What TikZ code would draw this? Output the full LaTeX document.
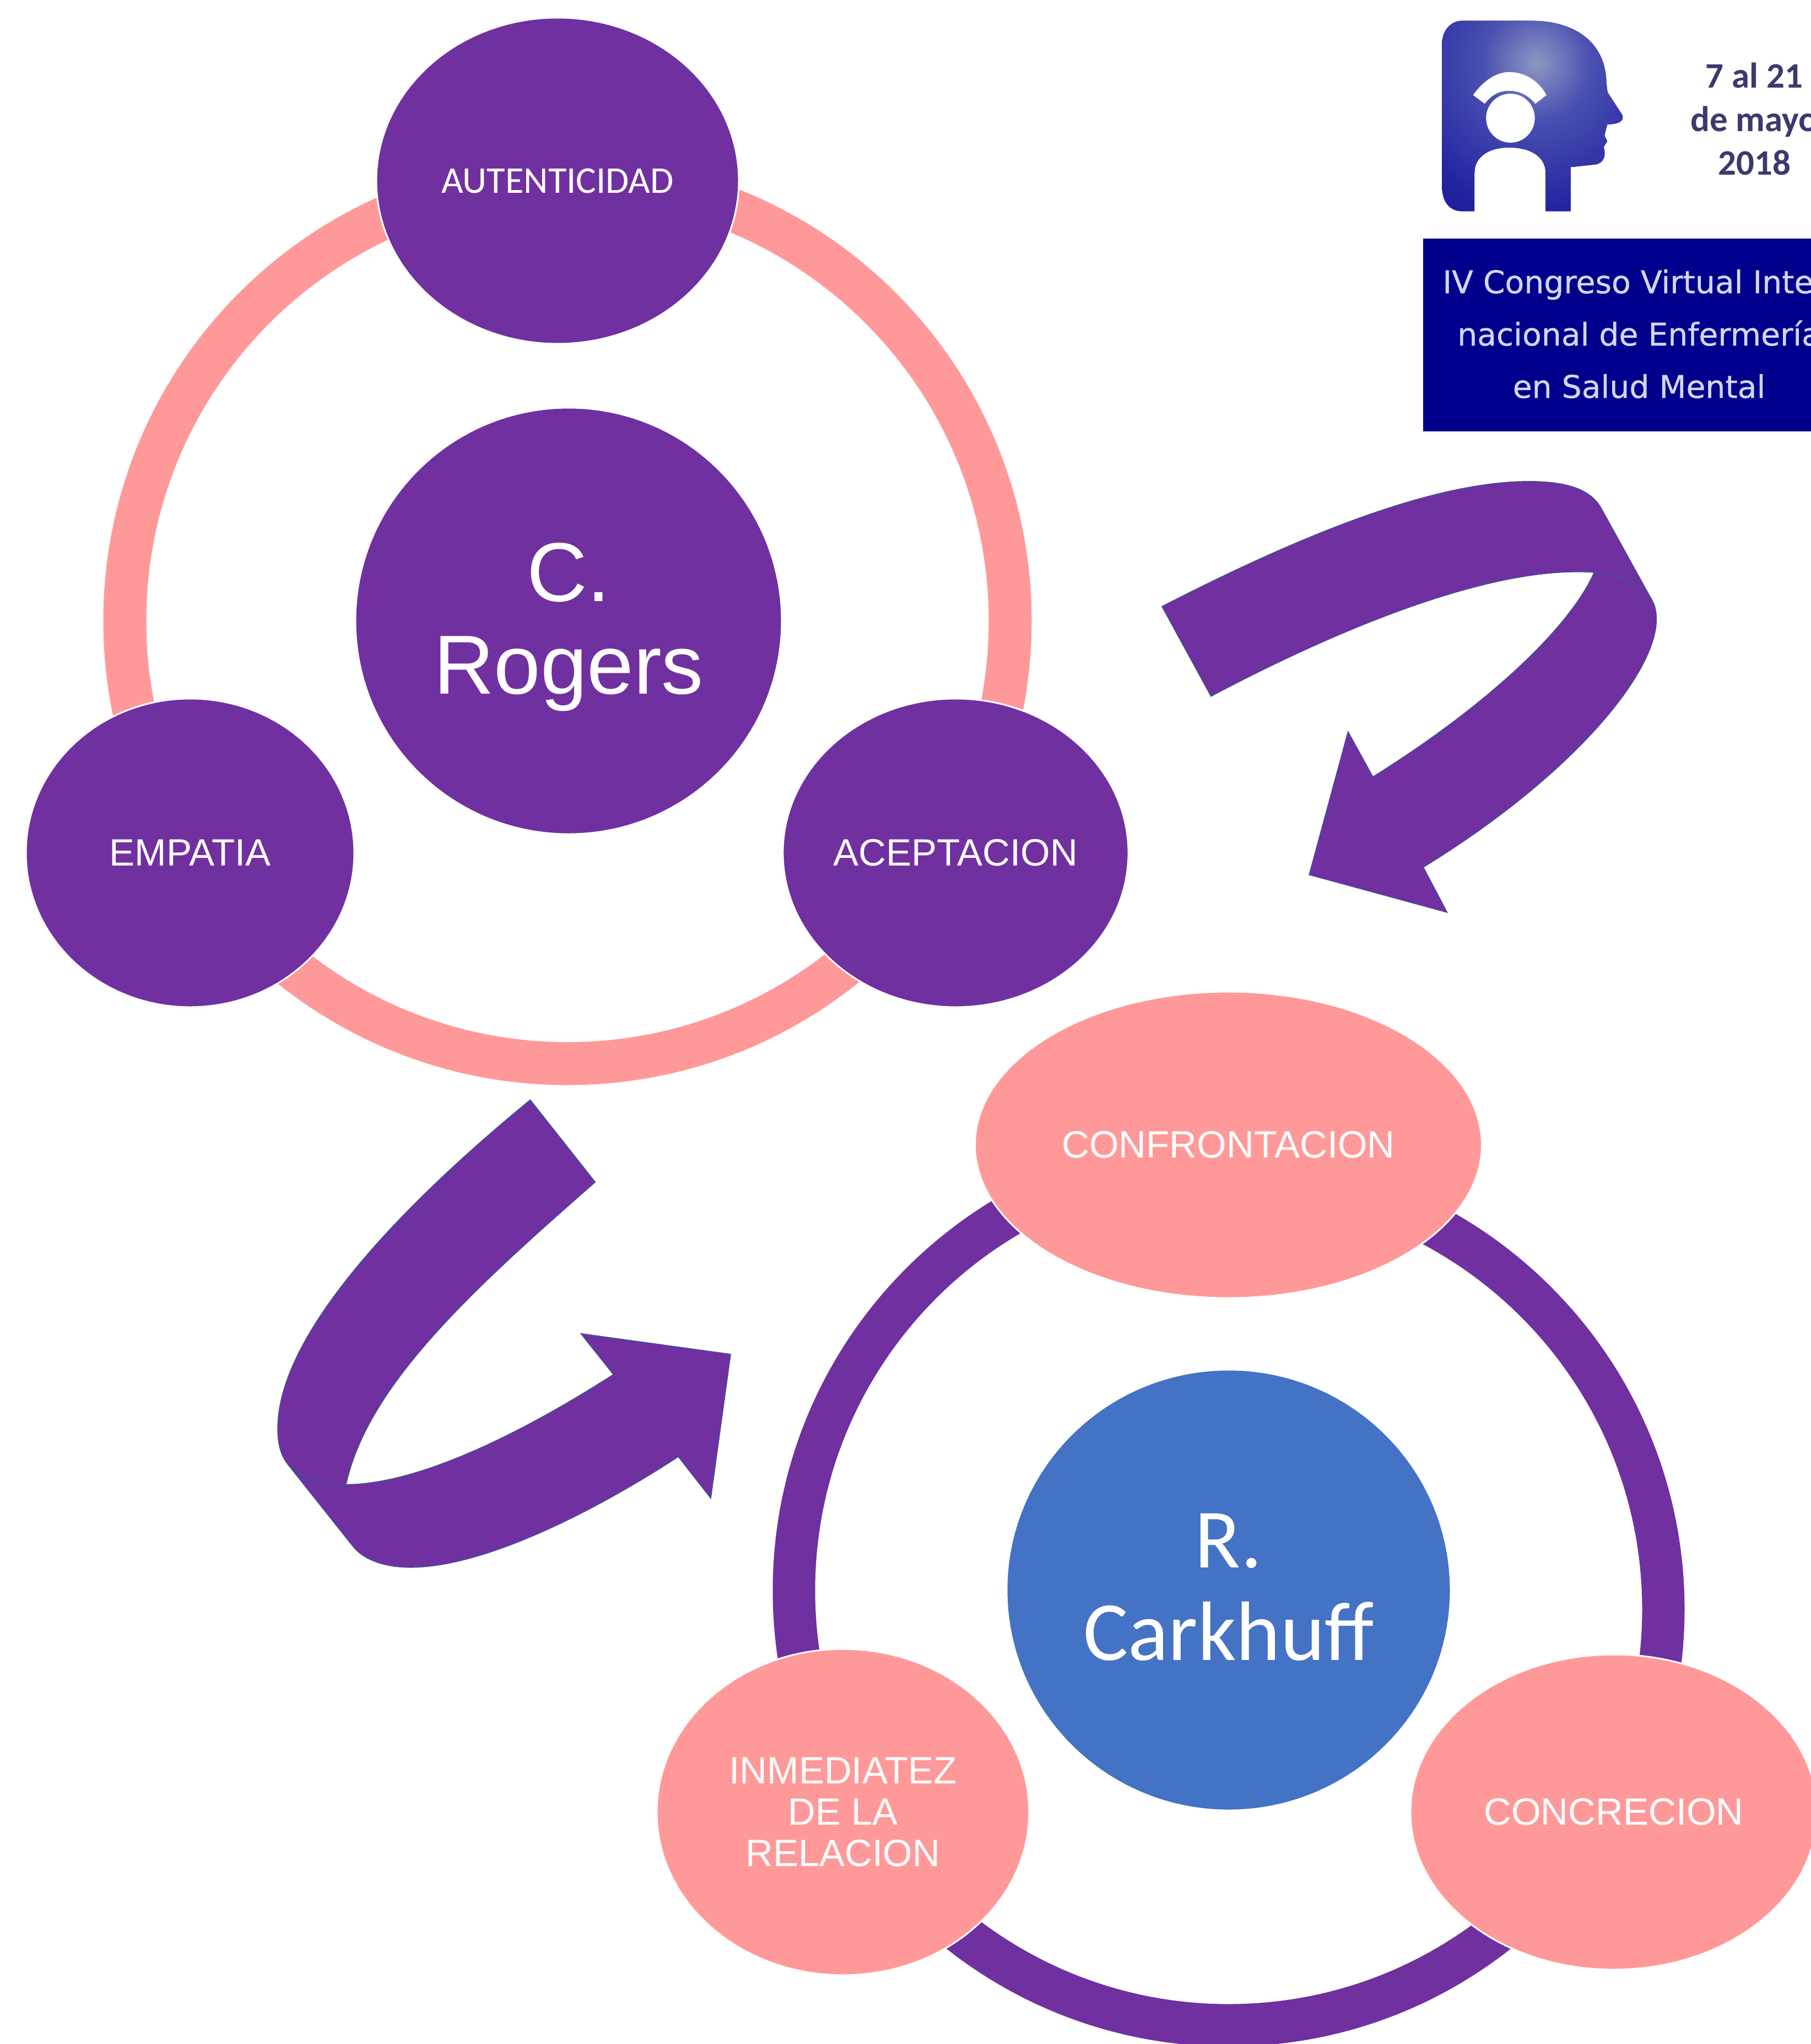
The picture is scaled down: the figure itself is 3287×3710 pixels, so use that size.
\documentclass[tikz,border=0pt]{standalone}
\usepackage{fontspec}
\setmainfont{Liberation Sans}
\newfontfamily\carlito{Carlito}
\newfontfamily\banner[FakeBold=0.5]{DejaVu Sans}
\usetikzlibrary{shapes.geometric}
\definecolor{purp}{HTML}{7030A0}
\definecolor{pinkc}{HTML}{FF9999}
\definecolor{bluec}{HTML}{4472C4}
\definecolor{navy}{HTML}{00008C}
\definecolor{seam}{HTML}{2F5F96}
\definecolor{lav}{HTML}{D4D6F4}
\definecolor{datec}{HTML}{3A3A6E}
\definecolor{hla}{HTML}{8E96C4}
\definecolor{hlb}{HTML}{4A50B0}
\definecolor{hlc}{HTML}{2424A2}
\definecolor{hld}{HTML}{05058C}
\pgfdeclareradialshading{headshade}{\pgfpoint{0bp}{0bp}}{color(0bp)=(hla); color(7bp)=(hlb); color(18bp)=(hlc); color(36bp)=(hld); color(50bp)=(hld)}
\tikzset{
  oval/.style={ellipse,draw=white,line width=1.5pt,inner sep=0pt,text=white,align=center},
  lab/.style={font=\fontsize{34.5}{37.5}\selectfont},
  ringa/.style={draw=pinkc,line width=39pt},
  ringb/.style={draw=purp,line width=38.5pt},
  bigarrow/.style={fill=purp,draw=seam,line width=0.5pt,line join=miter},
  seamline/.style={draw=seam,line width=0.7pt},
}
\begin{document}
\begin{tikzpicture}[x=0.5pt,y=-0.5pt]
\useasboundingbox (0,0) rectangle (3287,3710);
\clip (0,0) rectangle (3287,3710);
% ring 1
\draw[ringa] (1030,1127) circle [radius=803.5];
% ring 2: the right arc sits a little lower than the rest
\begin{scope}
  \clip (0,0) rectangle (2230,3710) (2230,3200) rectangle (3287,3710);
  \draw[ringb] (2230,2887) circle [radius=789];
\end{scope}
\begin{scope}
  \clip (2230,0) rectangle (3287,3200);
  \draw[ringb] (2230,2921) circle [radius=789];
\end{scope}
% curved arrow, upper right
\begin{scope}[shift={(2048,839)},x=0.3189pt,y=-0.2743pt]
  \path[bigarrow] (95,477) .. controls (450,265) and (850,63) .. (1140,63)
    .. controls (1250,63) and (1315,90) .. (1345,150) -- (1490,455)
    .. controls (1500,475) and (1503,495) .. (1503,520)
    .. controls (1503,700) and (1260,1040) .. (840,1340)
    -- (908,1490) -- (514,1365) -- (625,890) -- (696,1040)
    .. controls (1000,820) and (1250,560) .. (1325,365)
    .. controls (1310,363) and (1290,363) .. (1275,363)
    .. controls (1000,363) and (600,550) .. (235,775) -- cycle;
  \draw[seamline] (1325,365) .. controls (1400,370) and (1465,405) .. (1490,455);
\end{scope}
% curved arrow, lower left
\begin{scope}[shift={(478,1959)},x=0.287pt,y=-0.2934pt]
  \path[bigarrow] (844,63) .. controls (430,395) and (45,790) .. (45,1080)
    .. controls (45,1130) and (55,1165) .. (80,1195) -- (283,1445)
    .. controls (320,1490) and (390,1510) .. (465,1510)
    .. controls (700,1510) and (1050,1335) .. (1312,1168)
    -- (1415,1297) -- (1478,850) -- (1003,786) -- (1106,913)
    .. controls (800,1105) and (480,1253) .. (262,1253)
    .. controls (330,950) and (650,660) .. (1050,318) -- cycle;
  \draw[seamline] (80,1195) .. controls (130,1240) and (200,1255) .. (262,1253);
\end{scope}
% C. Rogers group
\node[oval,fill=purp,minimum width=329pt,minimum height=296pt,lab,font=\carlito\fontsize{34.3}{37}\selectfont] (aut) at (1012,328) {AUTENTICIDAD};
\node[oval,fill=purp,minimum width=387pt,minimum height=387pt,font=\fontsize{76}{84}\selectfont] (rogers) at (1032,1127) {C.\\Ro\smash{g}ers\rule[-5pt]{0pt}{5pt}};
\node[oval,fill=purp,minimum width=298pt,minimum height=280pt,lab] (emp) at (345,1548) {EMPATIA};
\node[oval,fill=purp,minimum width=313.5pt,minimum height=280pt,lab] (ace) at (1734.5,1548) {ACEPTACION};
% R. Carkhuff group
\node[oval,fill=pinkc,minimum width=460pt,minimum height=278pt,lab] (conf) at (2229.5,2078) {CONFRONTACION};
\node[oval,fill=bluec,minimum width=403pt,minimum height=400pt,font=\carlito\fontsize{76.5}{84}\selectfont] (cark) at (2230,2886) {R.\\Carkhuff\rule[-6pt]{0pt}{6pt}};
\node[oval,fill=pinkc,minimum width=338pt,minimum height=296pt,lab] (inm) at (1530,3289) {INMEDIATEZ\\DE LA\\RELACION};
\node[oval,fill=pinkc,minimum width=369pt,minimum height=286pt,lab] (conc) at (2929,3289) {CONCRECION};
% logo
\begin{scope}[shift={(2498,0)},x=0.251pt,y=-0.2615pt]
  \begin{scope}
    \clip (238,150) .. controls (238,105) and (270,72) .. (310,72) -- (560,72)
      .. controls (710,72) and (830,140) .. (832,290) -- (836,320) -- (890,400)
      .. controls (895,420) and (880,430) .. (835,432) -- (825,470) -- (835,490) -- (822,510)
      .. controls (835,555) and (810,572) .. (780,572) -- (703,580) -- (703,733) -- (612,733) -- (612,600)
      .. controls (612,545) and (560,512) .. (480,512)
      .. controls (405,512) and (355,545) .. (355,600) -- (355,733) -- (310,733)
      .. controls (265,733) and (238,700) .. (238,650) -- cycle;
    \fill[hld] (200,40) rectangle (920,760);
    \shade[shading=headshade] (580,220) circle [radius=700];
  \end{scope}
  \fill[white] (350,330) .. controls (390,275) and (440,250) .. (480,250)
     .. controls (530,250) and (585,275) .. (615,330) -- (575,360)
     .. controls (550,330) and (515,315) .. (480,315)
     .. controls (445,315) and (415,330) .. (392,360) -- cycle;
  \fill[white] (485,410) ellipse [x radius=88, y radius=85];
\end{scope}
\node[text=datec,align=center,font=\carlito\bfseries\fontsize{32.5}{39.5}\selectfont,inner sep=0pt] (dates) at (3184,216) {7 al 21\\de mayo\\2018};
\node[fill=navy,draw=none,inner sep=0pt,minimum width=352pt,minimum height=175pt] (bannerbox) at (2935,608) {};
\node[text=lav,align=center,font=\banner\fontsize{28.4}{47.5}\selectfont,inner sep=0pt] (bannertext) at (2975,606) {IV Congreso Virtual Inte\phantom{r-}\\nacional de Enfermería\\en Salud Mental};
\end{tikzpicture}
\end{document}
